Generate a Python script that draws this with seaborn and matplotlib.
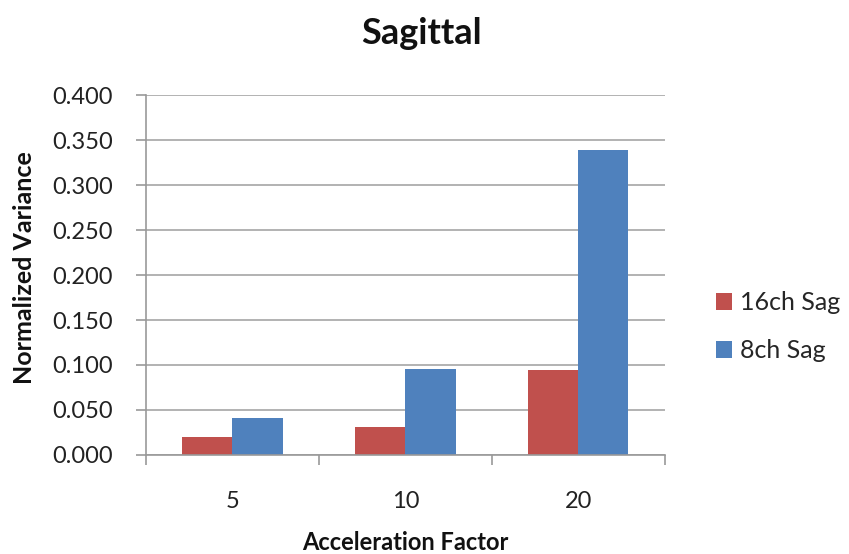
import numpy as np
import pandas as pd
import seaborn as sns
from matplotlib import pyplot as plt
from matplotlib.patches import Patch

factors = ["5", "10", "20"]
sag16 = [0.020, 0.031, 0.094]
sag8 = [0.041, 0.096, 0.339]
series = ["16ch Sag", "8ch Sag"]
colors = ["#C0504D", "#4F81BD"]

df = pd.DataFrame({
    "factor": factors * 2,
    "value": sag16 + sag8,
    "series": [series[0]] * 3 + [series[1]] * 3,
})

sns.set_theme(style="white")
plt.rcParams["font.family"] = ["Lato", "DejaVu Sans"]

fig = plt.figure(figsize=(8.49, 5.54), dpi=100)
ax = fig.add_axes([0.172, 0.179, 0.611, 0.649])

sns.barplot(data=df, x="factor", y="value", hue="series", order=factors,
            hue_order=series, palette=colors, width=0.58, saturation=1,
            edgecolor="none", legend=False, ax=ax)

yt = np.arange(0, 0.401, 0.05)
ax.set_xlim(-0.5, 2.5)
ax.set_ylim(0, 0.4)
ax.set_yticks(yt)
ax.set_yticklabels([f"{v:.3f}" for v in yt], fontsize=17, color="#222222")
ax.yaxis.grid(True, color="#a6a6a6", linewidth=1.2)
ax.set_axisbelow(True)

ax.set_xticks(range(len(factors)))
ax.set_xticklabels(factors, fontsize=17, color="#222222")
ax.set_xticks([-0.5, 0.5, 1.5, 2.5], minor=True)
ax.tick_params(axis="x", which="major", length=0, pad=26)
ax.tick_params(axis="x", which="minor", length=7, width=1.2, color="#999999", bottom=True)
ax.tick_params(axis="y", length=7, width=1.2, color="#999999", left=True, pad=17)

for s in ["top", "right"]:
    ax.spines[s].set_visible(False)
for s in ["left", "bottom"]:
    ax.spines[s].set_color("#999999")
    ax.spines[s].set_linewidth(1.2)

ax.set_xlabel("Acceleration Factor", fontsize=17, fontweight="bold", color="#111111")
ax.xaxis.set_label_coords(0.5, -0.212)
ax.set_ylabel("Normalized Variance", fontsize=18, fontweight="bold", color="#111111")
ax.yaxis.set_label_coords(-0.212, 0.52)
fig.text(0.497, 0.94, "Sagittal", fontsize=26, fontweight="bold", color="#111111",
         ha="center", va="center")

handles = [Patch(facecolor=c, edgecolor="none") for c in colors]
fig.legend(handles, series, loc="center left", bbox_to_anchor=(0.843, 0.41),
           frameon=False, fontsize=18, handlelength=0.64, handleheight=0.64,
           handletextpad=0.35, labelspacing=1.0, borderpad=0, borderaxespad=0)

fig.savefig("out.png", dpi=100)
